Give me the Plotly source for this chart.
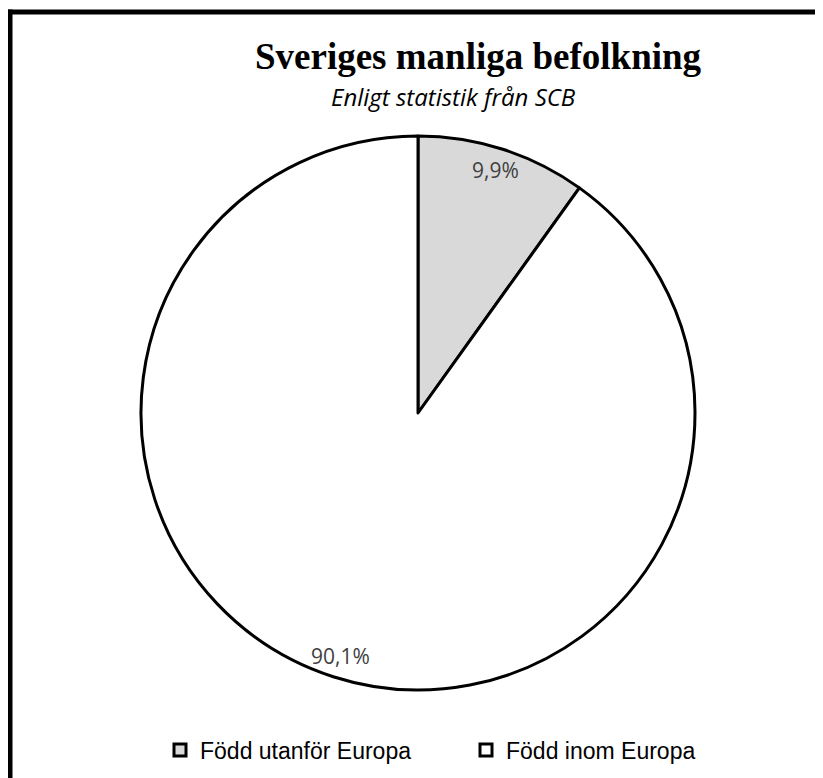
import math
import plotly.graph_objects as go

# ---- data ----
labels = ["Född utanför Europa", "Född inom Europa"]
values = [9.9, 90.1]
text_labels = ["9,9%", "90,1%"]
colors = ["#d9d9d9", "#ffffff"]

title_text = "Sveriges manliga befolkning"
subtitle_text = "Enligt statistik från SCB"

# ---- layout constants (screen pixels; page body has an 8px margin) ----
OFF = 8
W, H = 823 - OFF, 778 - OFF
CX, CY, R = 418, 413, 277
LABEL_R = 0.92


def px(x):
    return (x - OFF) / W


def py(y):
    return 1 - (y - OFF) / H


fig = go.Figure(
    go.Pie(
        labels=labels,
        values=values,
        sort=False,
        direction="clockwise",
        rotation=0,
        marker=dict(colors=colors, line=dict(color="black", width=3)),
        textinfo="none",
        hoverinfo="label+percent",
        domain=dict(x=[px(CX - R), px(CX + R)], y=[py(CY + R), py(CY - R)]),
    )
)

annotations = []
total = sum(values)
cum = 0.0
for v, t in zip(values, text_labels):
    mid = (cum + v / 2) / total * 2 * math.pi
    cum += v
    lx = CX + LABEL_R * R * math.sin(mid)
    ly = CY - LABEL_R * R * math.cos(mid)
    annotations.append(dict(
        x=px(lx), y=py(ly), xref="paper", yref="paper", text=t, showarrow=False,
        xanchor="center", yanchor="middle",
        font=dict(family="Open Sans", size=21, color="#404040"),
    ))

annotations.append(dict(
    x=px(478), y=py(57), xref="paper", yref="paper",
    text="<b>" + title_text + "</b>", showarrow=False,
    xanchor="center", yanchor="middle",
    font=dict(family="Liberation Serif", size=37, color="black"),
))
annotations.append(dict(
    x=px(454), y=py(96), xref="paper", yref="paper",
    text="<i>" + subtitle_text + "</i>", showarrow=False,
    xanchor="center", yanchor="middle",
    font=dict(family="Open Sans", size=24, color="black"),
))

shapes = [
    dict(type="line", xref="paper", yref="paper", x0=px(8), x1=1.0, y0=py(12), y1=py(12),
         line=dict(color="black", width=5)),
    dict(type="line", xref="paper", yref="paper", x0=px(10), x1=px(10), y0=py(9.5), y1=0.0,
         line=dict(color="black", width=5)),
]

fig.update_layout(
    width=W, height=H,
    margin=dict(l=0, r=0, t=0, b=0),
    paper_bgcolor="white", plot_bgcolor="white",
    showlegend=True,
    legend=dict(
        orientation="h", x=px(160), xanchor="left", y=py(750), yanchor="middle",
        entrywidth=261, entrywidthmode="pixels",
        font=dict(family="Liberation Sans", size=23, color="black"),
        bgcolor="rgba(0,0,0,0)",
    ),
    annotations=annotations,
    shapes=shapes,
)

fig.write_html("out.html")
